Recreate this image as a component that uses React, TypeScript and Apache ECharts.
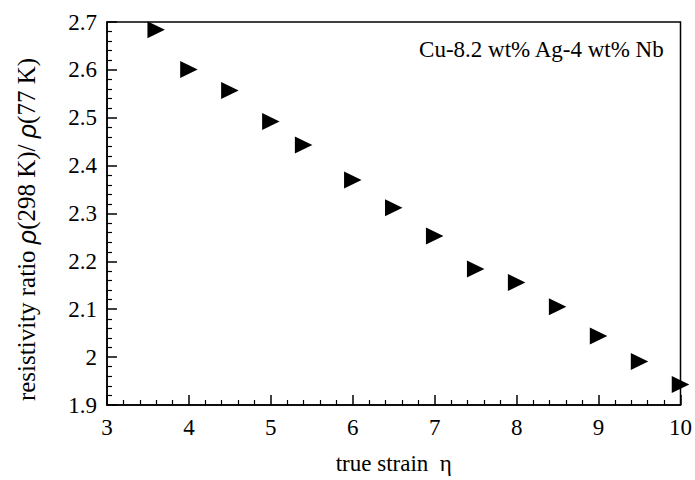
import React, { useEffect, useRef } from "react";
import * as echarts from "echarts";

const strain = [3.6, 4.0, 4.5, 5.0, 5.4, 6.0, 6.5, 7.0, 7.5, 8.0, 8.5, 9.0, 9.5, 10.0];
const ratio = [2.684, 2.601, 2.557, 2.492, 2.443, 2.37, 2.312, 2.253, 2.184, 2.156, 2.105, 2.044, 1.991, 1.943];
const xTicks = [3, 4, 5, 6, 7, 8, 9, 10];
const yTicks = [1.9, 2.0, 2.1, 2.2, 2.3, 2.4, 2.5, 2.6, 2.7];
const xTitle = "true strain  η";
const yTitle = "resistivity ratio {i|ρ}(298 K)/ {i|ρ}(77 K)";
const annotation = "Cu-8.2 wt% Ag-4 wt% Nb";

const SERIF = "Liberation Serif";
const SANS = "Liberation Sans";

export default function App() {
  const ref = useRef<HTMLDivElement>(null);
  useEffect(() => {
    document.body.style.margin = "0";
    if (!ref.current) return;
    const chart = echarts.init(ref.current, null, { renderer: "svg" });
    const data = strain.map((x, i) => [x, ratio[i]]);
    chart.setOption({
      animation: false,
      backgroundColor: "#ffffff",
      textStyle: { fontFamily: SERIF },
      grid: {
        left: 107,
        right: 11,
        top: 22,
        bottom: 73,
        show: true,
        borderColor: "#000",
        borderWidth: 1.5,
        backgroundColor: "transparent",
      },
      xAxis: {
        type: "value",
        min: xTicks[0],
        max: xTicks[xTicks.length - 1],
        interval: 1,
        name: xTitle,
        nameLocation: "middle",
        nameGap: 47,
        nameTextStyle: { fontFamily: SERIF, fontSize: 23, color: "#000" },
        axisLine: { show: true, onZero: false, lineStyle: { color: "#000", width: 1.5 } },
        axisTick: { show: true, inside: true, length: 10, lineStyle: { color: "#000", width: 1.5 } },
        minorTick: { show: true, splitNumber: 5, length: 5, lineStyle: { color: "#000", width: 1.2 } },
        splitLine: { show: false },
        axisLabel: { fontFamily: SERIF, fontSize: 23, color: "#000", margin: 11 },
      },
      yAxis: {
        type: "value",
        min: yTicks[0],
        max: yTicks[yTicks.length - 1],
        interval: 0.1,
        name: yTitle,
        nameLocation: "middle",
        nameGap: 68,
        nameTextStyle: {
          fontFamily: SERIF,
          fontSize: 25,
          color: "#000",
          padding: [0, 32, 0, 0],
          rich: {
            i: { fontFamily: SANS, fontStyle: "italic", fontSize: 25, color: "#000" },
          },
        },
        axisLine: { show: true, onZero: false, lineStyle: { color: "#000", width: 1.5 } },
        axisTick: { show: true, inside: true, length: 10, lineStyle: { color: "#000", width: 1.5 } },
        minorTick: { show: true, splitNumber: 5, length: 5, lineStyle: { color: "#000", width: 1.2 } },
        splitLine: { show: false },
        axisLabel: {
          fontFamily: SERIF,
          fontSize: 23,
          color: "#000",
          margin: 10,
          formatter: (v: number) => {
            const r = Math.round(v * 10) / 10;
            return r === 2 ? "2" : r.toFixed(1);
          },
        },
      },
      graphic: [
        {
          type: "text",
          right: 30,
          top: 38,
          style: {
            text: annotation,
            fontFamily: SERIF,
            fontSize: 23,
            fill: "#000",
          },
        },
      ],
      series: [
        {
          type: "scatter",
          data,
          clip: false,
          symbol: "path://M0,0L1,0.5L0,1Z",
          symbolSize: [17.5, 17],
          itemStyle: { color: "#000", opacity: 1 },
        },
      ],
    });
    return () => chart.dispose();
  }, []);
  return <div ref={ref} style={{ width: 695, height: 480 }} />;
}
